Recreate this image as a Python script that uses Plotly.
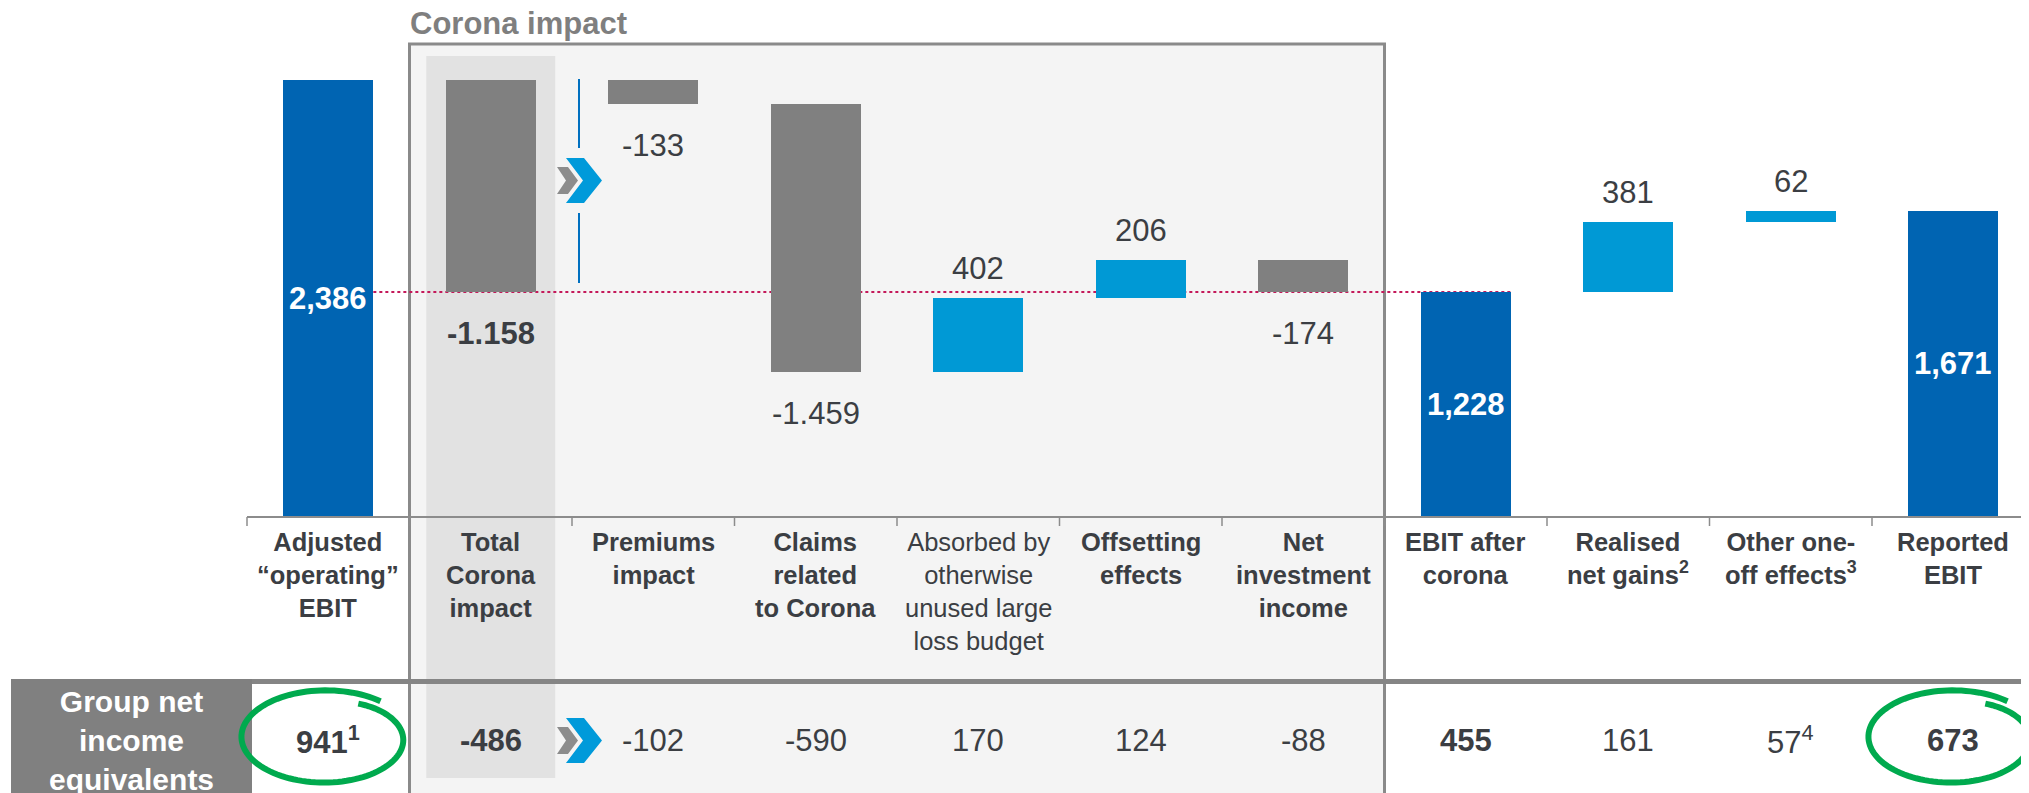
import numpy as np
import plotly.graph_objects as go

# ---------------- data ----------------
categories = [
    "Adjusted<br>“operating”<br>EBIT",
    "Total<br>Corona<br>impact",
    "Premiums<br>impact",
    "Claims<br>related<br>to Corona",
    "Absorbed by<br>otherwise<br>unused large<br>loss budget",
    "Offsetting<br>effects",
    "Net<br>investment<br>income",
    "EBIT after<br>corona",
    "Realised<br>net gains<sup>2</sup>",
    "Other one-<br>off effects<sup>3</sup>",
    "Reported<br>EBIT",
]
category_bold = [True, True, True, True, False, True, True, True, True, True, True]
ebit_values = [2386, -1158, -133, -1459, 402, 206, -174, 1228, 381, 62, 1671]
bar_kind = ["total", "subtotal", "delta", "delta", "delta", "delta", "delta",
            "total", "delta", "delta", "total"]
bar_labels = ["2,386", "-1.158", "-133", "-1.459", "402", "206", "-174",
              "1,228", "381", "62", "1,671"]
net_income_labels = ["941<sup>1</sup>", "-486", "-102", "-590", "170", "124", "-88",
                     "455", "161", "57<sup>4</sup>", "673"]
net_income_bold = [True, True, False, False, False, False, False, True, False, False, True]
row_title = "Group net<br>income<br>equivalents"
box_title = "Corona impact"

# ---------------- styling ----------------
WIN_W, WIN_H = 2029, 793
OFF = 8                       # default page body margin
W, H = WIN_W - OFF, WIN_H - OFF
FONT = "Liberation Sans, Arial, sans-serif"
DARK_BLUE = "#0064B2"
LIGHT_BLUE = "#0099D5"
GREY_BAR = "#808080"
TEXT = "#3b3e43"
GREEN = "#00AA4E"

X_LEFT_PX = 247.0     # left edge of first category (window px)
CAT_PX = 162.5        # category width in px
ZERO_PX = 517.0       # window y pixel of value 0
PX_PER_UNIT = 0.1832

x_range = [-0.5 - (X_LEFT_PX - OFF) / CAT_PX, -0.5 + (W - (X_LEFT_PX - OFF)) / CAT_PX]
y_range = [-(H - (ZERO_PX - OFF)) / PX_PER_UNIT, (ZERO_PX - OFF) / PX_PER_UNIT]


def P(xpx):
    return (xpx - OFF) / W


def Q(ypx):
    return 1 - (ypx - OFF) / H


# ---------------- waterfall geometry ----------------
n = len(ebit_values)
xs = list(range(n))
bases, colors = [], []
running = 0
for kind, v in zip(bar_kind, ebit_values):
    if kind == "total":
        bases.append(0)
        running = v
        colors.append(DARK_BLUE)
    elif kind == "subtotal":
        bases.append(running)
        colors.append(GREY_BAR if v < 0 else LIGHT_BLUE)
    else:
        bases.append(running)
        running += v
        colors.append(GREY_BAR if v < 0 else LIGHT_BLUE)

BAR_W = 0.555
fig = go.Figure()
fig.add_trace(go.Bar(
    x=xs, y=ebit_values, base=bases, width=BAR_W,
    marker=dict(color=colors, line=dict(width=0)),
    hoverinfo="skip", showlegend=False,
))

shapes = []
annotations = []

# Corona box
shapes.append(dict(type="rect", xref="x", yref="paper", x0=0.5, x1=6.5,
                   y0=Q(810), y1=Q(44), fillcolor="#f4f4f4",
                   line=dict(color="#8a8a8a", width=3), layer="below"))
# Total corona highlighted column
shapes.append(dict(type="rect", xref="x", yref="paper", x0=1 - 0.397, x1=1 + 0.397,
                   y0=Q(778), y1=Q(56), fillcolor="#e2e2e2",
                   line=dict(width=0), layer="below"))
# dashed level line at EBIT after corona
level = ebit_values[7]
shapes.append(dict(type="line", xref="x", yref="y", x0=0 + BAR_W / 2, x1=7 + BAR_W / 2,
                   y0=level, y1=level, line=dict(color="#c4195a", width=2, dash="3px,3px"),
                   layer="below"))
# axis line and ticks
shapes.append(dict(type="line", xref="x", yref="y", x0=-0.5, x1=x_range[1],
                   y0=0, y1=0, line=dict(color="#8c8c8c", width=2)))
for bnd in range(n + 1):
    shapes.append(dict(type="line", xref="x", yref="paper", x0=bnd - 0.5, x1=bnd - 0.5,
                       y0=Q(517), y1=Q(526), line=dict(color="#8c8c8c", width=1.5)))
# table header line
shapes.append(dict(type="rect", xref="paper", yref="paper", x0=P(11), x1=1.0,
                   y0=Q(684), y1=Q(679), fillcolor="#858585", line=dict(width=0)))
# row title box
shapes.append(dict(type="rect", xref="paper", yref="paper", x0=P(11), x1=P(252),
                   y0=Q(810), y1=Q(679), fillcolor="#808080", line=dict(width=0)))
# blue vertical line next to chevron
for y0, y1 in [(79, 148), (213, 283)]:
    shapes.append(dict(type="line", xref="paper", yref="paper", x0=P(579), x1=P(579),
                       y0=Q(y0), y1=Q(y1), line=dict(color="#0070C0", width=2)))


def poly_path(pts):
    return "M " + " L ".join(f"{P(x):.5f},{Q(y):.5f}" for x, y in pts) + " Z"


def chevrons(dy):
    grey = [(557, 167), (568, 167), (578, 180.5), (568, 194), (557, 194), (566, 180.5)]
    blue = [(566, 158), (584, 158), (602, 180.5), (584, 203), (566, 203), (583, 180.5)]
    shapes.append(dict(type="path", xref="paper", yref="paper",
                       path=poly_path([(x, y + dy) for x, y in grey]),
                       fillcolor="#8c8c8c", line=dict(width=0)))
    shapes.append(dict(type="path", xref="paper", yref="paper",
                       path=poly_path([(x, y + dy) for x, y in blue]),
                       fillcolor="#009ADA", line=dict(width=0)))


chevrons(0)
chevrons(560)


def hand_circle(cx, cy, rx, ry):
    t = np.linspace(0, 1, 120)
    th = np.deg2rad(-50 - 372 * t)
    r = 1.06 - 0.2 * t ** 4
    px = cx + rx * r * np.cos(th)
    py = cy + ry * r * np.sin(th)
    return "M " + " L ".join(f"{P(a):.5f},{Q(b):.5f}" for a, b in zip(px, py))


for cx in [326, 1953]:
    shapes.append(dict(type="path", xref="paper", yref="paper",
                       path=hand_circle(cx, 737, 80, 44),
                       line=dict(color=GREEN, width=6)))


# ---------------- text ----------------
def bold(txt, is_bold):
    return f"<b>{txt}</b>" if is_bold else txt


for i in range(n):
    v = ebit_values[i]
    kind = bar_kind[i]
    lo, hi = min(bases[i], bases[i] + v), max(bases[i], bases[i] + v)
    if kind == "total":
        annotations.append(dict(x=i, y=(lo + hi) / 2, xref="x", yref="y", xanchor="center",
                                text=f"<b>{bar_labels[i]}</b>", showarrow=False,
                                font=dict(size=31, color="white", family=FONT)))
    elif v < 0:
        annotations.append(dict(x=i, y=lo, xref="x", yref="y", xanchor="center",
                                yanchor="top", yshift=-22,
                                text=bold(bar_labels[i], kind == "subtotal"), showarrow=False,
                                font=dict(size=31, color=TEXT, family=FONT)))
    else:
        annotations.append(dict(x=i, y=hi, xref="x", yref="y", xanchor="center",
                                yanchor="bottom", yshift=10,
                                text=bar_labels[i], showarrow=False,
                                font=dict(size=31, color=TEXT, family=FONT)))
    # category label
    annotations.append(dict(x=i, y=Q(526), xref="x", yref="paper", xanchor="center",
                            yanchor="top",
                            text=bold(categories[i], category_bold[i]), showarrow=False,
                            font=dict(size=25.5, color=TEXT, family=FONT)))
    # bottom row
    annotations.append(dict(x=i, y=Q(740), xref="x", yref="paper", xanchor="center",
                            yanchor="middle",
                            text=bold(net_income_labels[i], net_income_bold[i]),
                            showarrow=False,
                            font=dict(size=31, color=TEXT, family=FONT)))

annotations.append(dict(x=P(131), y=Q(740), xref="paper", yref="paper", xanchor="center",
                        yanchor="middle", text=f"<b>{row_title}</b>", showarrow=False,
                        font=dict(size=30, color="white", family=FONT)))
annotations.append(dict(x=P(408), y=Q(24), xref="paper", yref="paper", xanchor="left",
                        yanchor="middle", text=f"<b>{box_title}</b>", showarrow=False,
                        font=dict(size=31, color="#7f7f7f", family=FONT)))

fig.update_layout(
    width=W, height=H,
    margin=dict(l=0, r=0, t=0, b=0, pad=0),
    paper_bgcolor="white", plot_bgcolor="white",
    xaxis=dict(range=x_range, visible=False, fixedrange=True),
    yaxis=dict(range=y_range, visible=False, fixedrange=True),
    shapes=shapes, annotations=annotations,
    bargap=0, showlegend=False,
    font=dict(family=FONT),
)

fig.write_html("out.html")
